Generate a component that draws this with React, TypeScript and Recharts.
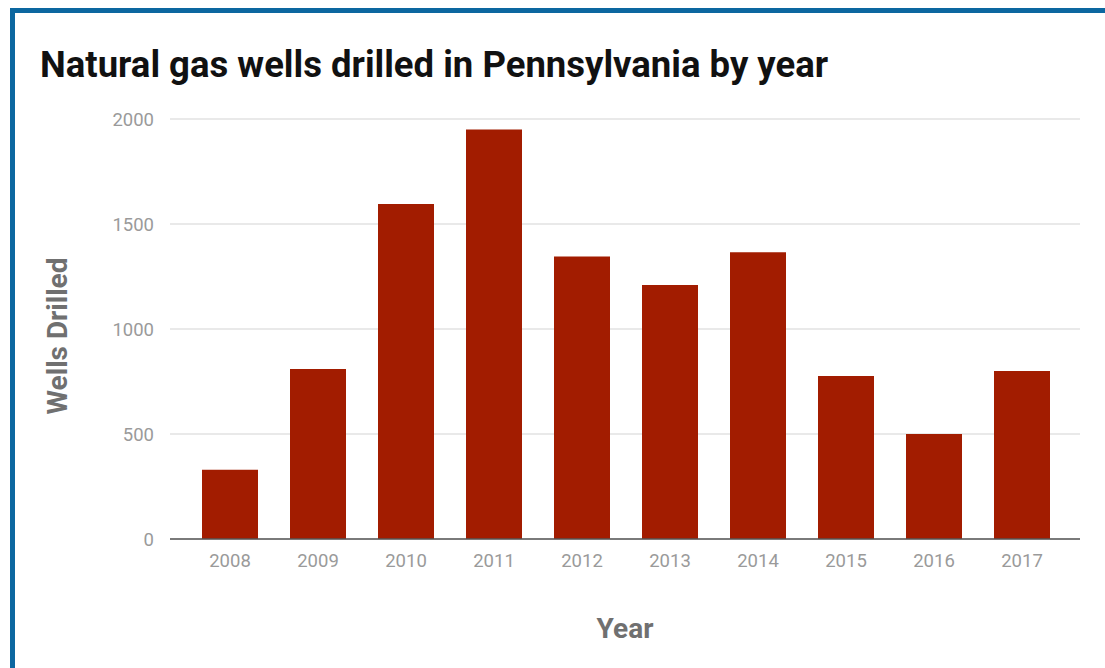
import { Bar, BarChart, CartesianGrid, Label, XAxis, YAxis } from 'recharts';

const YEARS = ['2008', '2009', '2010', '2011', '2012', '2013', '2014', '2015', '2016', '2017'];
const WELLS = [330, 810, 1595, 1950, 1345, 1210, 1365, 776, 500, 800];
const Y_TICKS = [0, 500, 1000, 1500, 2000];

const data = YEARS.map((year, i) => ({ year, wells: WELLS[i] }));

const FONT = 'Roboto, "Noto Sans", sans-serif';
const TICK = { fill: '#9a9a9a', fontSize: 18.5, fontFamily: FONT };
const AXIS_TITLE = { fill: '#707070', fontSize: 28, fontWeight: 700, fontFamily: FONT };

// rotated y-axis title, placed relative to the plot's viewBox
function YTitle({ viewBox }: any) {
    const x = viewBox.x - 43;
    const y = viewBox.y + viewBox.height / 2 + 7;
    return (
        <text
            x={x}
            y={y}
            transform={`rotate(-90, ${x}, ${y})`}
            textAnchor="middle"
            dominantBaseline="central"
            style={AXIS_TITLE}
        >
            Wells Drilled
        </text>
    );
}

export default function App() {
    return (
        <div
            style={{
                position: 'fixed',
                left: 0,
                top: 0,
                width: 1105,
                height: 668,
                overflow: 'hidden',
                background: '#fff',
                fontFamily: FONT,
            }}
        >
            <div
                style={{
                    position: 'absolute',
                    left: 10,
                    top: 8,
                    width: 1200,
                    height: 800,
                    borderTop: '5px solid #0c67a0',
                    borderLeft: '5px solid #0c67a0',
                }}
            />
            <div
                style={{
                    position: 'absolute',
                    left: 40,
                    top: 43,
                    fontSize: 36.5,
                    fontWeight: 700,
                    color: '#111',
                    whiteSpace: 'nowrap',
                }}
            >
                Natural gas wells drilled in Pennsylvania by year
            </div>
            <div style={{ position: 'absolute', left: 0, top: 0 }}>
                <BarChart
                    width={1105}
                    height={668}
                    data={data}
                    margin={{ top: 119, right: 25, bottom: 89, left: 100 }}
                >
                    <CartesianGrid vertical={false} stroke="#e2e2e2" strokeWidth={1.5} />
                    <XAxis
                        dataKey="year"
                        height={40}
                        padding={{ left: 16, right: 14 }}
                        tickLine={false}
                        axisLine={{ stroke: '#555', strokeWidth: 1.5 }}
                        tick={TICK}
                        tickMargin={9}
                    >
                        <Label value="Year" position="bottom" offset={39} style={AXIS_TITLE} />
                    </XAxis>
                    <YAxis
                        width={70}
                        domain={[0, 2000]}
                        ticks={Y_TICKS}
                        axisLine={false}
                        tickLine={false}
                        tick={TICK}
                        tickMargin={10}
                    >
                        <Label content={YTitle} />
                    </YAxis>
                    <Bar dataKey="wells" fill="#a21c00" barSize={56} isAnimationActive={false} />
                </BarChart>
            </div>
        </div>
    );
}
